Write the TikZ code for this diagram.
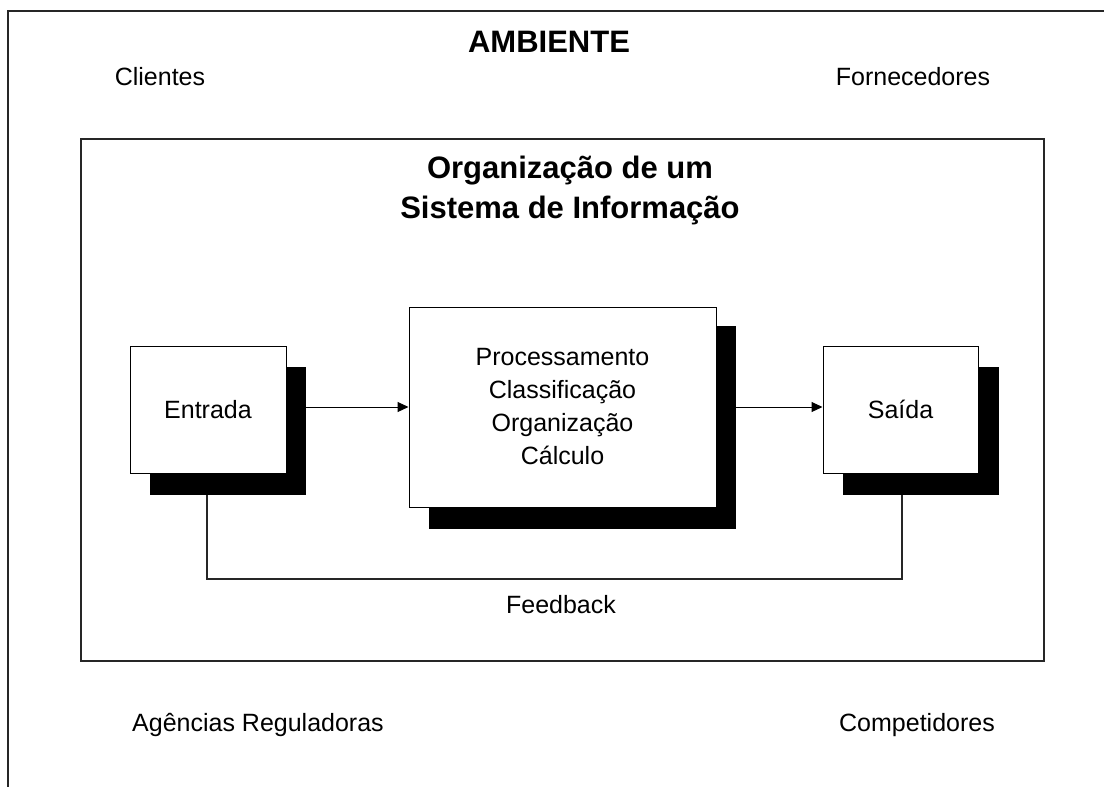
\documentclass[tikz,border=0pt]{standalone}
\usepackage{fontspec}
\setmainfont{Liberation Sans}
\usetikzlibrary{arrows.meta}
\tikzset{
  x=1pt, y=-1pt,
  reg/.style={font=\fontsize{25}{33}\selectfont, inner sep=0pt, align=center},
  bld/.style={font=\fontsize{31}{40}\selectfont\bfseries, inner sep=0pt, align=center},
  frame/.style={draw=black!85, line width=1.4pt},
  wbox/.style={draw=black, fill=white, line width=1pt, inner sep=0pt, align=center,
    font=\fontsize{25}{33}\selectfont},
  shad/.style={fill=black, inner sep=0pt},
  arr/.style={-{Triangle[length=11pt,width=10pt]}, line width=1pt},
  fb/.style={line width=1.2pt, draw=black!85}
}
\begin{document}
\begin{tikzpicture}
\useasboundingbox (0,0) rectangle (1104,787);
\fill[white] (0,0) rectangle (1104,787);
% outer environment frame
\coordinate (o1) at (8,787);
\coordinate (o2) at (8,11);
\coordinate (o3) at (1104,11);
\draw[frame] (o1) -- (o2) -- (o3);
\node[bld] (amb) at (549,42) {AMBIENTE};
\node[reg] (cli) at (160,77) {Clientes};
\node[reg] (forn) at (913,77) {Fornecedores};
\node[reg] (ag) at (258,725) {Agências Reguladoras};
\node[reg] (comp) at (917,725) {Competidores};
% inner organisation frame
\node[frame, inner sep=0pt, minimum width=963pt, minimum height=522pt] (org) at (562.5,400) {};
\node[bld] (tit) at (570,190) {Organização de um\\Sistema de Informação};
% shadows
\node[shad, minimum width=156pt, minimum height=128pt] (es) at (228,431) {};
\node[shad, minimum width=307pt, minimum height=203pt] (ps) at (582,427.5) {};
\node[shad, minimum width=156pt, minimum height=128pt] (ss) at (921,431) {};
% boxes
\node[wbox, minimum width=156pt, minimum height=127pt] (e) at (208,409.5) {Entrada};
\node[wbox, minimum width=307pt, minimum height=200pt] (p) at (562.5,407)
  {Processamento\\Classificação\\Organização\\Cálculo};
\node[wbox, minimum width=155pt, minimum height=127pt] (s) at (900.5,409.5) {Saída};
% arrows
\draw[arr] (es.east |- p.center) -- (p.west);
\draw[arr] (ps.east |- p.center) -- (s.west |- p.center);
% feedback
\coordinate (fbl) at (207,579);
\coordinate (fbr) at (902,579);
\draw[fb] (es.south -| fbl) -- (fbl) -- (fbr) -- (ss.south -| fbr);
\node[reg] (fbt) at (561,605) {Feedback};
\end{tikzpicture}
\end{document}
